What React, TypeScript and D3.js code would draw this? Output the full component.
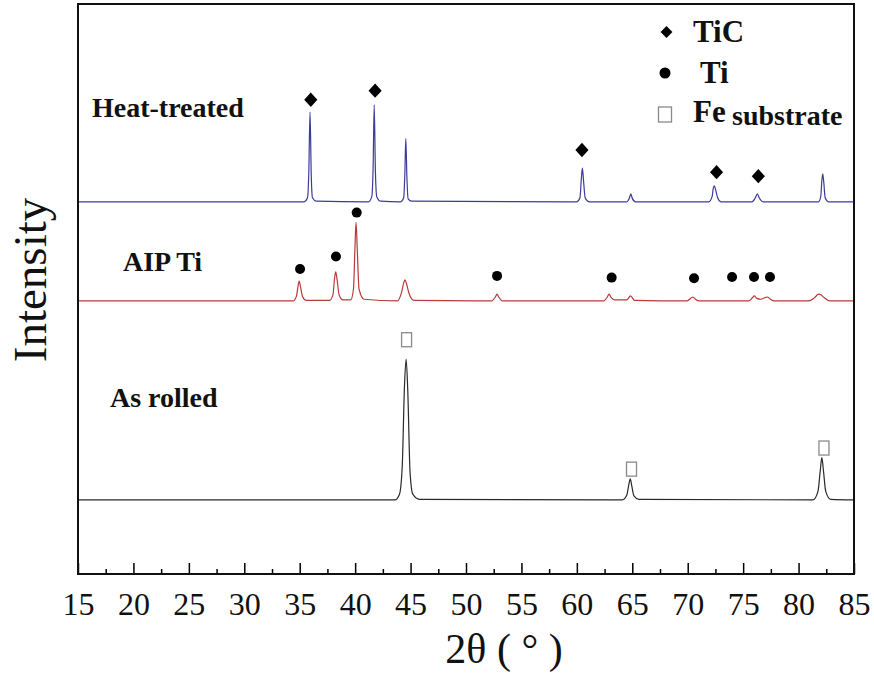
import React, { useEffect, useRef } from "react";
import * as d3 from "d3";

// 2θ (deg) / intensity (a.u., traces already stacked)
const heatTreated: [number, number][] = [
  [15, 653], [35.4, 653], [35.7, 660], [35.82, 705], [35.93, 811], [36.04, 700], [36.15, 660], [36.5, 654],
  [41.2, 653], [41.5, 662], [41.62, 712], [41.72, 823], [41.83, 705], [41.95, 662], [42.3, 654],
  [44.1, 653], [44.38, 660], [44.48, 700], [44.57, 764], [44.67, 695], [44.78, 658], [45.1, 654],
  [60.0, 653], [60.28, 660], [60.4, 692], [60.5, 712], [60.61, 688], [60.75, 660], [61.1, 653],
  [64.5, 653], [64.75, 660], [64.87, 667], [65.0, 659], [65.3, 653],
  [71.9, 653], [72.2, 662], [72.3, 676], [72.4, 681], [72.52, 674], [72.7, 660], [73.0, 653],
  [75.8, 653], [76.1, 660], [76.28, 667], [76.45, 660], [76.8, 653],
  [81.8, 653], [82.0, 662], [82.1, 690], [82.18, 702], [82.27, 688], [82.4, 660], [82.7, 653], [85, 653],
];

const aipTi: [number, number][] = [
  [15, 479], [34.4, 479], [34.7, 487], [34.85, 505], [34.95, 514], [35.08, 503], [35.25, 487], [35.6, 480],
  [37.7, 480], [38.0, 490], [38.15, 520], [38.25, 530], [38.38, 515], [38.55, 490], [38.9, 481],
  [39.6, 481], [39.85, 500], [39.98, 570], [40.08, 617], [40.2, 565], [40.35, 500], [40.8, 482],
  [43.8, 479], [44.2, 495], [44.4, 512], [44.5, 516], [44.62, 510], [44.85, 493], [45.3, 480],
  [52.3, 479], [52.65, 486], [52.8, 491], [52.95, 486], [53.3, 479],
  [62.4, 479], [62.75, 486], [62.9, 491], [63.1, 485], [63.4, 481],
  [64.5, 481], [64.85, 488], [65.2, 480],
  [69.9, 479], [70.3, 484], [70.45, 486], [70.65, 483], [71.0, 479],
  [75.5, 479], [75.85, 485], [76.0, 488], [76.2, 484], [76.6, 482], [77.0, 485], [77.2, 486], [77.4, 483], [77.8, 479],
  [80.9, 479], [81.4, 484], [81.8, 491], [82.0, 490], [82.3, 485], [82.8, 479], [85, 479],
];

const asRolled: [number, number][] = [
  [15, 130], [43.6, 130], [44.0, 140], [44.25, 190], [44.45, 330], [44.6, 377], [44.75, 320], [44.95, 180], [45.2, 140], [45.8, 131],
  [64.1, 130], [64.5, 138], [64.7, 158], [64.82, 167], [64.95, 155], [65.15, 137], [65.6, 131],
  [81.3, 130], [81.75, 145], [81.95, 180], [82.1, 204], [82.25, 180], [82.45, 145], [82.9, 131], [85, 130],
];

const ticMarks: [number, number][] = [[36.0, 832], [41.8, 848], [60.46, 744], [72.6, 705], [76.37, 698]];
const tiMarks: [number, number][] = [
  [35.03, 535], [38.27, 557], [40.14, 634], [52.8, 523], [63.14, 520],
  [70.57, 519], [74.0, 521], [75.98, 521], [77.42, 521],
];
const feMarks: [number, number][] = [[44.64, 411], [64.93, 184], [82.29, 221]];

const majorTicks = d3.range(15, 86, 5);
const minorTicks = d3.range(17.5, 85, 5);
const sampleLabels = [
  { text: "Heat-treated", x: 92, y: 117 },
  { text: "AIP Ti", x: 123, y: 271 },
  { text: "As rolled", x: 110, y: 407 },
];

const FONT = "Liberation Serif, Times New Roman, Times, DejaVu Serif, serif";

const App = () => {
  const ref = useRef<SVGSVGElement>(null);

  useEffect(() => {
    const dims = { width: 874, height: 675, left: 78, right: 854, top: 4, bottom: 574 };
    const x = d3.scaleLinear([15, 85], [dims.left, dims.right]);
    const y = d3.scaleLinear([0, 1000], [dims.bottom, dims.top]);

    const svg = d3.select(ref.current);
    svg.selectAll("*").remove();

    const line = d3
      .line<[number, number]>()
      .curve(d3.curveMonotoneX)
      .x((d) => x(d[0]))
      .y((d) => y(d[1]));

    // traces
    [
      { data: asRolled, color: "#2a2a2a" },
      { data: aipTi, color: "#b83a3a" },
      { data: heatTreated, color: "#3c3c98" },
    ].forEach((s) => {
      svg
        .append("path")
        .attr("fill", "none")
        .attr("stroke", s.color)
        .attr("stroke-width", 1.2)
        .attr("d", line(s.data));
    });

    // phase markers
    const diamond = d3.symbol(d3.symbolDiamond2, 110);
    svg
      .append("g")
      .selectAll("path")
      .data(ticMarks)
      .join("path")
      .attr("d", diamond)
      .attr("transform", (d) => `translate(${x(d[0])},${y(d[1])}) scale(1,1.1)`)
      .attr("fill", "#000");

    svg
      .append("g")
      .selectAll("circle")
      .data(tiMarks)
      .join("circle")
      .attr("cx", (d) => x(d[0]))
      .attr("cy", (d) => y(d[1]))
      .attr("r", 5)
      .attr("fill", "#000");

    svg
      .append("g")
      .selectAll("rect")
      .data(feMarks)
      .join("rect")
      .attr("x", (d) => x(d[0]) - 5)
      .attr("y", (d) => y(d[1]) - 7)
      .attr("width", 10)
      .attr("height", 14)
      .attr("fill", "none")
      .attr("stroke", "#8a8a8a")
      .attr("stroke-width", 1.3);

    // x axis ticks (inward)
    svg
      .append("g")
      .attr("transform", `translate(0,${dims.bottom})`)
      .call(d3.axisBottom(x).tickValues(minorTicks).tickSize(-5).tickFormat(() => ""))
      .call((g) => g.select(".domain").remove())
      .call((g) => g.selectAll(".tick line").attr("stroke", "#000").attr("stroke-width", 1.5));

    svg
      .append("g")
      .attr("transform", `translate(0,${dims.bottom})`)
      .call(d3.axisBottom(x).tickValues(majorTicks).tickSize(-11).tickFormat(d3.format("d")))
      .call((g) => g.select(".domain").remove())
      .call((g) => g.selectAll(".tick line").attr("stroke", "#000").attr("stroke-width", 1.5))
      .call((g) =>
        g
          .selectAll(".tick text")
          .attr("font-size", 32)
          .attr("font-family", FONT)
          .attr("fill", "#111")
          .attr("y", 41)
          .attr("dy", null)
      )
      .attr("font-family", FONT);

    // frame
    svg
      .append("rect")
      .attr("x", dims.left)
      .attr("y", dims.top)
      .attr("width", dims.right - dims.left)
      .attr("height", dims.bottom - dims.top)
      .attr("fill", "none")
      .attr("stroke", "#111")
      .attr("stroke-width", 2);

    // axis titles
    svg
      .append("text")
      .attr("x", 504)
      .attr("y", 663)
      .attr("text-anchor", "middle")
      .style("font-family", FONT)
      .attr("font-size", 42)
      .attr("fill", "#111")
      .text("2θ ( ° )");

    svg
      .append("text")
      .attr("transform", "translate(46,280) rotate(-90)")
      .attr("text-anchor", "middle")
      .style("font-family", FONT)
      .attr("font-size", 47)
      .attr("fill", "#111")
      .text("Intensity");

    // sample labels
    svg
      .append("g")
      .selectAll("text")
      .data(sampleLabels)
      .join("text")
      .attr("x", (d) => d.x)
      .attr("y", (d) => d.y)
      .style("font-family", FONT)
      .attr("font-weight", "bold")
      .attr("font-size", 28)
      .attr("fill", "#111")
      .text((d) => d.text);

    // legend
    const lg = svg.append("g").style("font-family", FONT).attr("font-weight", "bold").attr("fill", "#111");
    lg.append("path")
      .attr("d", d3.symbol(d3.symbolDiamond2, 90)())
      .attr("transform", "translate(666.5,32)")
      .attr("fill", "#000");
    lg.append("text").attr("x", 693).attr("y", 42).attr("font-size", 31).text("TiC");
    lg.append("circle").attr("cx", 665).attr("cy", 73).attr("r", 5.5).attr("fill", "#000");
    lg.append("text").attr("x", 700).attr("y", 83).attr("font-size", 31).text("Ti");
    lg.append("rect")
      .attr("x", 658.5)
      .attr("y", 107)
      .attr("width", 13)
      .attr("height", 15)
      .attr("fill", "none")
      .attr("stroke", "#8a8a8a")
      .attr("stroke-width", 1.3);
    lg.append("text").attr("x", 693).attr("y", 122).attr("font-size", 31).text("Fe");
    lg.append("text").attr("x", 732).attr("y", 125).attr("font-size", 28).text("substrate");
  }, []);

  return (
    <svg
      ref={ref}
      width={874}
      height={675}
      viewBox="0 0 874 675"
      style={{ position: "absolute", left: 0, top: 0, background: "#fff", fontFamily: FONT }}
    />
  );
};

export default App;
